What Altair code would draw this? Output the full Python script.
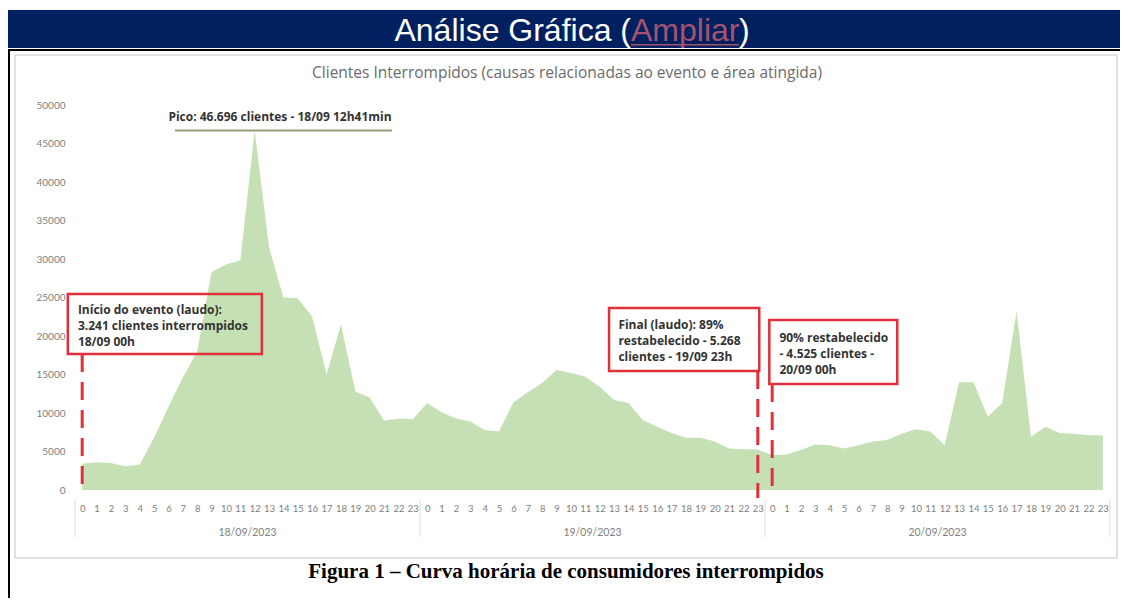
import altair as alt
import pandas as pd

# ---------------- data ----------------
hours = list(range(24))
days = ["18/09/2023", "19/09/2023", "20/09/2023"]
day1 = [3400, 3600, 3500, 3100, 3300, 6800, 10800, 14600, 18000, 28300, 29300, 29800,
        46696, 31500, 25000, 24900, 22500, 15000, 21500, 12800, 12000, 9000, 9300, 9200]
day2 = [11300, 10100, 9300, 8900, 7800, 7600, 11400, 12700, 13900, 15600, 15200, 14700,
        13400, 11700, 11300, 9100, 8200, 7400, 6800, 6800, 6300, 5400, 5300, 5268]
day3 = [4525, 4600, 5200, 5900, 5800, 5400, 5800, 6300, 6500, 7300, 7900, 7600,
        5800, 14000, 14000, 9500, 11300, 23200, 6900, 8200, 7400, 7300, 7100, 7100]
y_ticks = [0, 5000, 10000, 15000, 20000, 25000, 30000, 35000, 40000, 45000, 50000]

values = day1 + day2 + day3
df = pd.DataFrame({"idx": list(range(len(values))), "hora": hours * 3, "clientes": values})

# annotation texts
peak_text = "Pico: 46.696 clientes - 18/09 12h41min"
peak_value = 46696
box_lines = [
    ["Início do evento (laudo):", "3.241 clientes interrompidos", "18/09 00h"],
    ["Final (laudo): 89%", "restabelecido - 5.268", "clientes - 19/09 23h"],
    ["90% restabelecido", "- 4.525 clientes -", "20/09 00h"],
]
event_idx = [0, 47, 48]

# annotation placement (data units)
box_x0 = [-1.0, 36.65, 47.8]
box_x1 = [12.5, 47.1, 56.7]
box_ytop = [25450, 23640, 22080]
box_ybot = [17660, 15450, 13770]
line_bottom = [0, -1040, -260]
text_x = [-0.3, 37.3, 48.5]
text_y0 = [23380, 21430, 19740]
line_step = 2100

X = alt.Scale(domain=[-0.5, 71.5], nice=False, zero=False)
Y = alt.Scale(domain=[0, 50000], nice=False, zero=True)
AX = alt.Axis(values=list(range(72)), labelExpr="datum.value % 24", title=None,
              grid=False, ticks=False, tickSize=0, domain=False,
              labelFont="Lato", labelFontSize=9.5, labelColor="#808080",
              labelPadding=13, labelOverlap=False, labelFlush=False)
AY = alt.Axis(values=y_ticks, format="d", title=None, grid=False, ticks=False, tickSize=0,
              domain=False, labelFont="Lato", labelFontSize=10,
              labelColor="#808080", labelPadding=10, labelOverlap=False)
one = pd.DataFrame({"a": [0]})
RED = "#e0303a"
GRAY = "#808080"

# ---------------- decoration (page frame) ----------------
banner = alt.Chart(one).mark_rect(color="#002060").encode(
    x=alt.value(-72), x2=alt.value(1060), y=alt.value(-95), y2=alt.value(-57))
topline = alt.Chart(one).mark_rect(color="#000000").encode(
    x=alt.value(-67), x2=alt.value(1060), y=alt.value(-56), y2=alt.value(-54))
leftline = alt.Chart(one).mark_rect(color="#000000").encode(
    x=alt.value(-67), x2=alt.value(-65), y=alt.value(-56), y2=alt.value(500))
frame = alt.Chart(one).mark_rect(fill=None, stroke="#d9d9d9", strokeWidth=1.5).encode(
    x=alt.value(-60), x2=alt.value(1042), y=alt.value(-50), y2=alt.value(453))

bfont = dict(font="Liberation Sans", fontSize=32, baseline="alphabetic")
b1 = alt.Chart(one).mark_text(align="right", color="white", **bfont).encode(
    x=alt.value(556), y=alt.value(-64), text=alt.value("Análise Gráfica ("))
b2 = alt.Chart(one).mark_text(align="left", color="#a5526f", **bfont).encode(
    x=alt.value(556), y=alt.value(-64), text=alt.value("Ampliar"))
b3 = alt.Chart(one).mark_text(align="left", color="white", **bfont).encode(
    x=alt.value(664), y=alt.value(-64), text=alt.value(")"))
bund = alt.Chart(one).mark_rect(color="#a5526f").encode(
    x=alt.value(556), x2=alt.value(664), y=alt.value(-61), y2=alt.value(-59.5))

ctitle = alt.Chart(one).mark_text(font="Open Sans", fontSize=15.5, color="#6b6b6b").encode(
    x=alt.value(492), y=alt.value(-32),
    text=alt.value("Clientes Interrompidos (causas relacionadas ao evento e área atingida)"))

caption = alt.Chart(one).mark_text(font="Liberation Serif", fontSize=21, fontWeight="bold",
                                   color="#000000").encode(
    x=alt.value(491), y=alt.value(467),
    text=alt.value("Figura 1 – Curva horária de consumidores interrompidos"))

# ---------------- chart ----------------
area = alt.Chart(df).mark_area(color="#c5e0b4", opacity=1).encode(
    x=alt.X("idx:Q", scale=X, axis=AX),
    y=alt.Y("clientes:Q", scale=Y, axis=AY),
)

sep_df = pd.DataFrame({"b": [-0.5, 23.5, 47.5, 71.5]})
seps = alt.Chart(sep_df).mark_rule(color="#dcdcdc", strokeWidth=1).encode(
    x=alt.X("b:Q", scale=X, axis=AX), y=alt.value(395), y2=alt.value(432))

day_df = pd.DataFrame({"dia": days, "mid": [11.5, 35.5, 59.5]})
day_labels = alt.Chart(day_df).mark_text(font="Lato", fontSize=10.5, color=GRAY).encode(
    x=alt.X("mid:Q", scale=X, axis=AX), y=alt.value(428), text="dia:N")

peak_rule = alt.Chart(pd.DataFrame({"x0": [6.46], "x1": [21.55], "v": [peak_value]})).mark_rule(
    color="#9c9c7c", strokeWidth=2).encode(
    x=alt.X("x0:Q", scale=X, axis=AX), x2="x1:Q", y=alt.Y("v:Q", scale=Y, axis=AY))
peak_lbl = alt.Chart(pd.DataFrame({"x": [13.76], "y": [48440], "t": [peak_text]})).mark_text(
    font="Open Sans", fontSize=12, fontWeight="bold", color="#333333").encode(
    x=alt.X("x:Q", scale=X, axis=AX), y=alt.Y("y:Q", scale=Y, axis=AY), text="t:N")

box_df = pd.DataFrame({"x0": box_x0, "x1": box_x1, "yt": box_ytop, "yb": box_ybot})
boxes = alt.Chart(box_df).mark_rect(fill=None, stroke=RED, strokeWidth=2.5).encode(
    x=alt.X("x0:Q", scale=X, axis=AX), x2="x1:Q",
    y=alt.Y("yt:Q", scale=Y, axis=AY), y2="yb:Q")

rows = []
for i, lines in enumerate(box_lines):
    for j, ln in enumerate(lines):
        rows.append({"x": text_x[i], "y": text_y0[i] - j * line_step, "t": ln})
txt_df = pd.DataFrame(rows)
box_txt = alt.Chart(txt_df).mark_text(font="Open Sans", fontSize=12, fontWeight="bold",
                                      color="#333333", align="left").encode(
    x=alt.X("x:Q", scale=X, axis=AX), y=alt.Y("y:Q", scale=Y, axis=AY), text="t:N")

dash_df = pd.DataFrame({"x": event_idx, "yt": box_ybot, "yb": line_bottom})
dashes = alt.Chart(dash_df).mark_rule(color=RED, strokeWidth=3, strokeDash=[18, 10]).encode(
    x=alt.X("x:Q", scale=X, axis=AX), y=alt.Y("yt:Q", scale=Y, axis=AY), y2="yb:Q")

chart = alt.layer(
    area, banner, topline, leftline, frame, b1, b2, b3, bund, ctitle,
    seps, day_labels, peak_rule, peak_lbl, boxes, box_txt, dashes, caption
).properties(
    width=1035, height=385,
    autosize=alt.AutoSizeParams(type="none"),
    padding={"left": 67, "top": 97, "right": 10, "bottom": 108},
    background="white",
).configure_view(stroke=None)

chart.save("out.html", embed_options={"renderer": "svg", "actions": False})
